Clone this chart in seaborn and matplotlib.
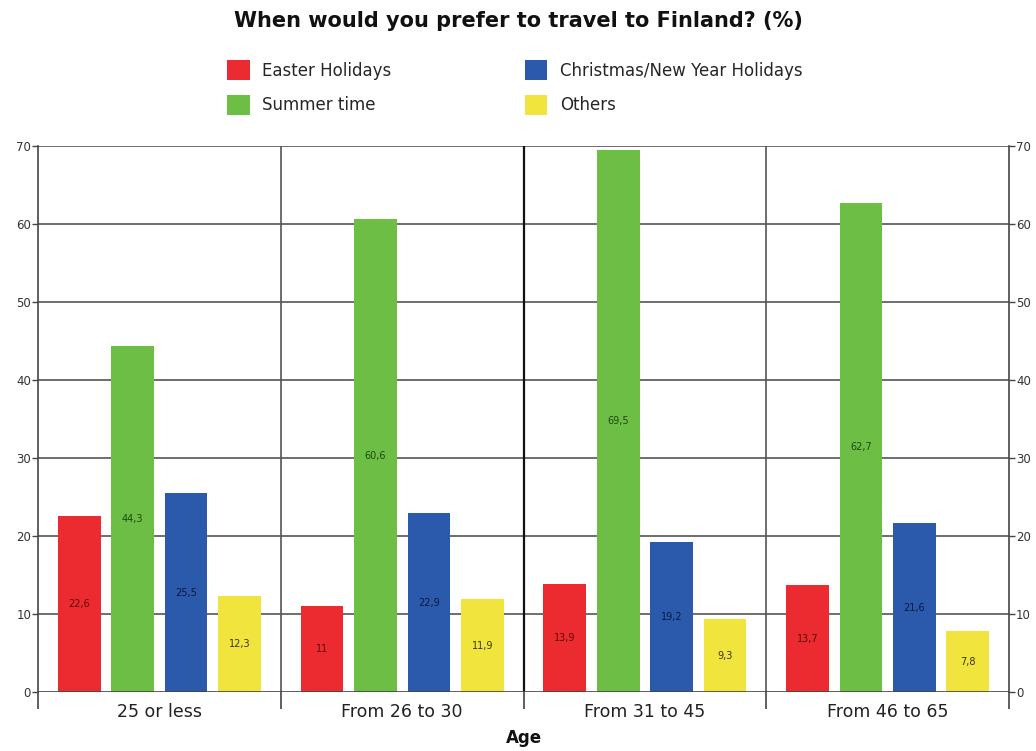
import numpy as np
import pandas as pd
import matplotlib
matplotlib.use("Agg")
import matplotlib.pyplot as plt
import seaborn as sns
from matplotlib.patches import Patch

age_groups = ["25 or less", "From 26 to 30", "From 31 to 45", "From 46 to 65"]
series_names = ["Easter Holidays", "Summer time", "Christmas/New Year Holidays", "Others"]
easter = [22.6, 11.0, 13.9, 13.7]
summer = [44.3, 60.6, 69.5, 62.7]
christmas = [25.5, 22.9, 19.2, 21.6]
others = [12.3, 11.9, 9.3, 7.8]

colors = ["#EC2B30", "#6DBE45", "#2B59AC", "#F1E53D"]
label_colors = ["#5a0a0a", "#1f4a10", "#0b1a40", "#3a3608"]

rows = []
for name, vals in zip(series_names, [easter, summer, christmas, others]):
    for g, v in zip(age_groups, vals):
        rows.append({"Age": g, "Period": name, "Value": v})
df = pd.DataFrame(rows)

sns.set_theme(style="white")
plt.rcParams["font.family"] = ["DejaVu Sans"]

fig = plt.figure(figsize=(10.36, 7.51), dpi=100)
ax = fig.add_axes([0.0367, 0.0786, 0.9373, 0.727])

sns.barplot(data=df, x="Age", y="Value", hue="Period", hue_order=series_names,
            order=age_groups, palette=colors, width=0.88, gap=0.2,
            saturation=1, legend=False, ax=ax, edgecolor="none")

ax.set_ylim(0, 70)
ax.set_xlim(-0.5, 3.5)

# value labels in the middle of each bar
for cont, lc in zip(ax.containers, label_colors):
    labels = [f"{v:g}".replace(".", ",") for v in cont.datavalues]
    ax.bar_label(cont, labels=labels, label_type="center", fontsize=7, color=lc)

# horizontal gridlines
ax.set_yticks(np.arange(0, 71, 10))
for y in np.arange(10, 71, 10):
    ax.axhline(y, color="#555555", lw=1.2, zorder=0)
ax.axhline(0, color="#444444", lw=1.2, zorder=3)

# group separators
for i, x in enumerate([0.5, 1.5, 2.5]):
    ax.axvline(x, color="#111111" if i == 1 else "#555555", lw=1.6 if i == 1 else 1.2, zorder=0)

for s in ["top", "bottom"]:
    ax.spines[s].set_visible(False)
for s in ["left", "right"]:
    ax.spines[s].set_color("#444444")
    ax.spines[s].set_linewidth(1.2)

ax.tick_params(axis="y", which="both", left=True, labelleft=True,
               direction="out", length=6, width=1.0, color="#444444",
               labelsize=9, labelcolor="#333333", pad=2)
ax.tick_params(axis="y", which="both", right=True, labelright=True,
               direction="out", length=4, width=1.0, color="#444444",
               labelsize=8.5, labelcolor="#333333", pad=1)

ax.set_xticks(range(len(age_groups)))
ax.set_xticklabels(age_groups, fontsize=12.5, color="#222222")
ax.set_xticks([-0.5, 0.5, 1.5, 2.5, 3.5], minor=True)
ax.tick_params(axis="x", which="major", length=0, pad=8)
ax.tick_params(axis="x", which="minor", bottom=True, length=12, width=1.2, color="#444444", direction="out")

ax.set_xlabel("Age", fontsize=12, fontweight="bold", color="#111111", labelpad=6)
ax.set_ylabel("")
ax.grid(False)

fig.suptitle("When would you prefer to travel to Finland? (%)", x=0.5, y=0.985,
             fontsize=15, fontweight="bold", color="#111111")

handles = [Patch(facecolor=c, edgecolor="none") for c in colors]
leg = fig.legend(handles, series_names, loc="upper left", bbox_to_anchor=(0.205, 0.94),
                 ncol=2, frameon=False, fontsize=12, handlelength=1.35, handleheight=1.5,
                 columnspacing=8.0, labelspacing=0.85, handletextpad=0.75)

fig.savefig("out.png", dpi=100)
